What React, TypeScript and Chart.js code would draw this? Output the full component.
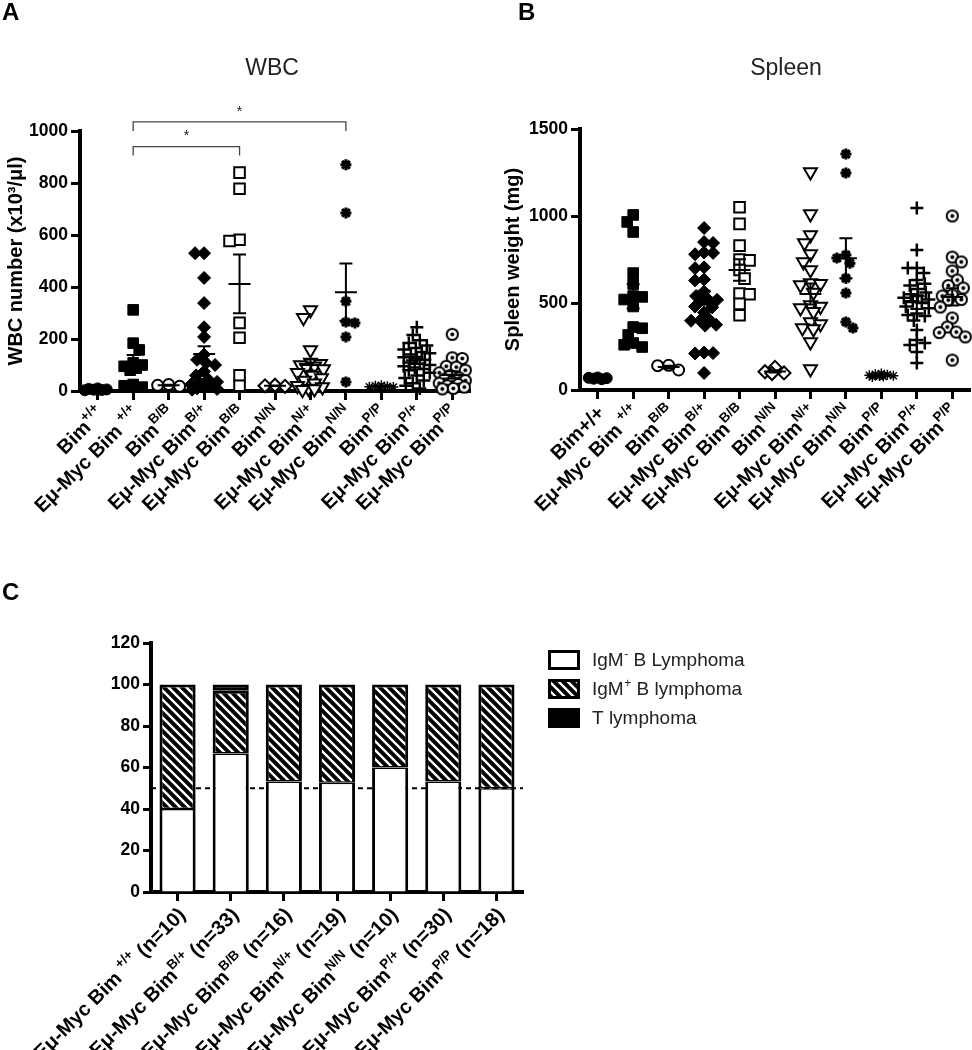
import React, { useEffect, useRef } from 'react';
import { Chart, registerables } from 'chart.js';

Chart.register(...registerables);

const FONT = '"Liberation Sans", Arial, Helvetica, sans-serif';
Chart.defaults.font.family = FONT;

// ---------- Panel A / B categories ----------
const dotBaseA = ['Bim', 'Eμ-Myc Bim ', 'Bim', 'Eμ-Myc Bim', 'Eμ-Myc Bim', 'Bim', 'Eμ-Myc Bim', 'Eμ-Myc Bim', 'Bim', 'Eμ-Myc Bim', 'Eμ-Myc Bim'];
const dotSupA = ['+/+', '+/+', 'B/B', 'B/+', 'B/B', 'N/N', 'N/+', 'N/N', 'P/P', 'P/+', 'P/P'];
const dotBaseB = ['Bim+/+', 'Eμ-Myc Bim ', 'Bim', 'Eμ-Myc Bim', 'Eμ-Myc Bim', 'Bim', 'Eμ-Myc Bim', 'Eμ-Myc Bim', 'Bim', 'Eμ-Myc Bim', 'Eμ-Myc Bim'];
const dotSupB = ['', '+/+', 'B/B', 'B/+', 'B/B', 'N/N', 'N/+', 'N/N', 'P/P', 'P/+', 'P/P'];

// ---------- Panel A: WBC (x10^3/µl) ----------
const wbcBimWT = [10, 8, 6, 5, 4, 3];
const wbcMycWT = [312, 184, 158, 108, 100, 95, 88, 80, 25, 20, 15];
const wbcBimBB = [25, 22, 18];
const wbcMycBplus = [530, 530, 435, 338, 245, 208, 140, 120, 108, 100, 75, 60, 45, 35, 30, 25, 20, 15, 10, 8, 5];
const wbcMycBB = [840, 778, 582, 577, 262, 205, 60, 20];
const wbcBimNN = [22, 20, 18];
const wbcMycNplus = [312, 282, 158, 110, 105, 100, 95, 90, 85, 70, 60, 50, 40, 30, 20, 15, 10, 8, 5];
const wbcMycNN = [870, 685, 345, 265, 262, 208, 35];
const wbcBimPP = [22, 20, 18, 16, 15, 12];
const wbcMycPplus = [245, 215, 195, 185, 175, 165, 160, 150, 145, 140, 130, 125, 120, 110, 105, 100, 95, 90, 85, 80, 70, 60, 50, 40, 30, 20, 10];
const wbcMycPP = [218, 128, 125, 95, 92, 80, 70, 60, 50, 45, 40, 35, 30, 25, 20, 15, 10, 8];
const wbcMean = [6, 110, 22, 142, 412, 20, 100, 380, 17, 118, 62];
const wbcSem = [1, 28, 2, 30, 113, 1, 22, 110, 1, 14, 14];
const wbcTicks = [0, 200, 400, 600, 800, 1000];
// significance brackets: [from group, to group, bracket level]
const wbcBrackets = [[1, 4, 940], [1, 7, 1035]];

// ---------- Panel B: Spleen weight (mg) ----------
const spBimWT = [72, 70, 68, 65, 62];
const spMycWT = [1006, 966, 908, 672, 609, 540, 535, 520, 480, 362, 355, 316, 270, 260, 247];
const spBimBB = [142, 140, 115];
const spMycBplus = [931, 850, 845, 790, 788, 780, 705, 700, 635, 630, 565, 540, 520, 518, 515, 480, 475, 445, 405, 400, 398, 375, 370, 215, 212, 210, 98];
const spMycBB = [1050, 955, 830, 750, 745, 690, 640, 555, 550, 495, 430];
const spBimNN = [130, 105, 98, 95];
const spMycNplus = [1253, 1011, 891, 845, 781, 736, 690, 615, 610, 603, 560, 489, 480, 471, 450, 391, 380, 356, 350, 276, 120];
const spMycNN = [1356, 1247, 776, 758, 729, 642, 557, 391, 356];
const spBimPP = [95, 90, 88, 85, 82, 80, 78, 75];
const spMycPplus = [1046, 805, 701, 701, 672, 632, 610, 600, 580, 560, 550, 540, 530, 520, 510, 500, 480, 470, 440, 431, 425, 400, 345, 287, 270, 259, 218, 155];
const spMycPP = [1000, 764, 736, 684, 632, 600, 586, 546, 540, 520, 517, 477, 414, 362, 333, 330, 305, 172];
const spleenMean = [66, 538, 132, 530, 690, 107, 552, 757, 84, 505, 535];
const spleenSem = [2, 70, 8, 40, 62, 7, 60, 115, 3, 40, 50];
const spleenTicks = [0, 500, 1000, 1500];

// ---------- Panel C: lymphoma type (%) ----------
const lymphBase = ['Eμ-Myc Bim ', 'Eμ-Myc Bim', 'Eμ-Myc Bim', 'Eμ-Myc Bim', 'Eμ-Myc Bim', 'Eμ-Myc Bim', 'Eμ-Myc Bim'];
const lymphSup = ['+/+', 'B/+', 'B/B', 'N/+', 'N/N', 'P/+', 'P/P'];
const lymphN = ['(n=10)', '(n=33)', '(n=16)', '(n=19)', '(n=10)', '(n=30)', '(n=18)'];
const igmNeg = [40, 66.7, 53.3, 52.6, 60, 53.3, 50];
const igmPos = [60, 30.3, 46.7, 47.4, 40, 46.7, 50];
const tLymph = [0, 3.0, 0, 0, 0, 0, 0];
const lymphTicks = [0, 20, 40, 60, 80, 100, 120];
const referenceLine = 50;
const legendBase = ['IgM', 'IgM', 'T lymphoma'];
const legendSup = ['-', '+', ''];
const legendRest = [' B Lymphoma', ' B lymphoma', ''];

// ---------- marker styles ----------
type Mk = { style: string; r: number; fill: string; bw: number; rot?: number; diam: number };
const markers: Mk[] = [
  { style: 'circle', r: 5.5, fill: '#000', bw: 1, diam: 9 },
  { style: 'rect', r: 7.5, fill: '#000', bw: 1, diam: 9 },
  { style: 'circle', r: 5.5, fill: '#fff', bw: 2, diam: 10.5 },
  { style: 'rectRot', r: 6.5, fill: '#000', bw: 1, diam: 8.5 },
  { style: 'rect', r: 7.5, fill: '#fff', bw: 2, diam: 10 },
  { style: 'rectRot', r: 6.5, fill: '#fff', bw: 2, diam: 10 },
  { style: 'triangle', r: 7.5, fill: '#fff', bw: 2, rot: 180, diam: 10 },
  { style: 'star', r: 5.5, fill: '#000', bw: 3, diam: 9 },
  { style: 'star', r: 5, fill: '#000', bw: 1.5, diam: 6 },
  { style: 'cross', r: 6.5, fill: '#000', bw: 2.5, diam: 8.5 },
  { style: 'circledDot', r: 7, fill: '#fff', bw: 2, diam: 10 },
];
const maxSpreadPx = 13;

function makeCircledDot(): HTMLCanvasElement {
  const c = document.createElement('canvas');
  c.width = 15; c.height = 15;
  const g = c.getContext('2d')!;
  g.fillStyle = '#fff';
  g.beginPath(); g.arc(7.5, 7.5, 5.6, 0, Math.PI * 2); g.fill();
  g.lineWidth = 2; g.strokeStyle = '#000'; g.stroke();
  g.fillStyle = '#000';
  g.beginPath(); g.arc(7.5, 7.5, 2, 0, Math.PI * 2); g.fill();
  return c;
}

function makeHatch(ctx: CanvasRenderingContext2D): CanvasPattern {
  const s = 9;
  const c = document.createElement('canvas');
  c.width = s; c.height = s;
  const g = c.getContext('2d')!;
  g.fillStyle = '#000'; g.fillRect(0, 0, s, s);
  g.strokeStyle = '#fff'; g.lineWidth = 2.4;
  g.beginPath();
  g.moveTo(-1, -1); g.lineTo(s + 1, s + 1);
  g.moveTo(-1, s - 1); g.lineTo(1, s + 1);
  g.moveTo(s - 1, -1); g.lineTo(s + 1, 1);
  g.stroke();
  return ctx.createPattern(c, 'repeat')!;
}

// beeswarm-like horizontal spreading, in pixels, converted to category units
function swarmOffsets(values: number[], pxPerY: number, diam: number, pxPerX: number): number[] {
  const placed: [number, number][] = [];
  const out: number[] = [];
  let sign = 1;
  values.forEach((v) => {
    const y = v * pxPerY;
    let chosen = 0;
    let best = -1;
    for (let k = 0; k <= maxSpreadPx * 2; k++) {
      const mag = Math.ceil(k / 2);
      const dx = k === 0 ? 0 : (k % 2 ? sign : -sign) * mag;
      let minD = Infinity;
      for (const [px, py] of placed) minD = Math.min(minD, Math.hypot(px - dx, py - y));
      if (minD >= diam) { chosen = dx; best = Infinity; break; }
      if (minD > best + 0.5) { best = minD; chosen = dx; }
    }
    placed.push([chosen, y]);
    out.push(chosen / pxPerX);
    sign = -sign;
  });
  return out;
}

function drawRotLabel(ctx: CanvasRenderingContext2D, x: number, y: number, base: string, sup: string, rest: string) {
  const big = `bold 20px ${FONT}`;
  const small = `bold 13.5px ${FONT}`;
  ctx.font = big;
  const wb = ctx.measureText(base).width;
  const wr = rest ? ctx.measureText(rest).width : 0;
  ctx.font = small;
  const ws = sup ? ctx.measureText(sup).width : 0;
  const W = wb + ws + wr;
  ctx.save();
  ctx.translate(x, y);
  ctx.rotate(-Math.PI / 4);
  ctx.textBaseline = 'middle';
  ctx.textAlign = 'left';
  ctx.fillStyle = '#000';
  ctx.font = big;
  ctx.fillText(base, -W, 0);
  if (sup) { ctx.font = small; ctx.fillText(sup, -W + wb, -7.5); }
  if (rest) { ctx.font = big; ctx.fillText(rest, -W + wb + ws, 0); }
  ctx.restore();
}

type DotCfg = {
  groups: number[][];
  base: string[];
  sup: string[];
  means: number[];
  sems: number[];
  ticks: number[];
  title: string;
  titleX: number;
  yTitle: string;
  padLeft: number;
  areaLeft: number;
  areaRight: number;
  areaTop: number;
  areaBottom: number;
  width: number;
  height: number;
  brackets?: number[][];
};

function buildDot(canvas: HTMLCanvasElement, cfg: DotCfg): Chart {
  const dotImg = makeCircledDot();
  const yMax = cfg.ticks[cfg.ticks.length - 1];
  const n = cfg.groups.length;
  const pxPerY = (cfg.areaBottom - cfg.areaTop) / yMax;
  const pxPerX = (cfg.areaRight - cfg.areaLeft) / n;
  const datasets = cfg.groups.map((vals, i) => {
    const mk = markers[i];
    const offs = swarmOffsets(vals, pxPerY, mk.diam, pxPerX);
    return {
      label: cfg.base[i] + cfg.sup[i],
      data: vals.map((v, j) => ({ x: i + offs[j], y: v })),
      pointStyle: mk.style === 'circledDot' ? dotImg : mk.style,
      pointRadius: mk.r,
      pointBackgroundColor: mk.fill,
      pointBorderColor: '#000',
      pointBorderWidth: mk.bw,
      pointRotation: mk.rot || 0,
      showLine: false,
      clip: false,
    };
  });

  const decor = {
    id: 'dotDecor',
    afterDatasetsDraw(chart: any) {
      const { ctx } = chart;
      const xs = chart.scales.x;
      const ys = chart.scales.y;
      ctx.save();
      ctx.strokeStyle = '#000';
      ctx.lineWidth = 2;
      cfg.means.forEach((m, i) => {
        const x = xs.getPixelForValue(i);
        const yM = ys.getPixelForValue(m);
        const yT = ys.getPixelForValue(m + cfg.sems[i]);
        const yB = ys.getPixelForValue(Math.max(0, m - cfg.sems[i]));
        ctx.beginPath();
        ctx.moveTo(x - 11, yM); ctx.lineTo(x + 11, yM);
        ctx.moveTo(x, yT); ctx.lineTo(x, yB);
        ctx.moveTo(x - 6.5, yT); ctx.lineTo(x + 6.5, yT);
        ctx.moveTo(x - 6.5, yB); ctx.lineTo(x + 6.5, yB);
        ctx.stroke();
      });
      ctx.restore();
    },
    afterDraw(chart: any) {
      const { ctx, chartArea } = chart;
      const xs = chart.scales.x;
      const ys = chart.scales.y;
      ctx.save();
      ctx.fillStyle = '#222';
      ctx.font = `23px ${FONT}`;
      ctx.textAlign = 'center';
      ctx.textBaseline = 'middle';
      ctx.fillText(cfg.title, cfg.titleX, 69);
      for (let i = 0; i < n; i++) {
        drawRotLabel(ctx, xs.getPixelForValue(i) + 4, chartArea.bottom + 20, cfg.base[i], cfg.sup[i], '');
      }
      if (cfg.brackets) {
        ctx.strokeStyle = '#444';
        ctx.lineWidth = 1.3;
        ctx.fillStyle = '#222';
        ctx.font = `14px ${FONT}`;
        cfg.brackets.forEach(([a, b, lvl]) => {
          const x1 = xs.getPixelForValue(a);
          const x2 = xs.getPixelForValue(b);
          const y = ys.getPixelForValue(lvl);
          ctx.beginPath();
          ctx.moveTo(x1, y + 9); ctx.lineTo(x1, y); ctx.lineTo(x2, y); ctx.lineTo(x2, y + 9);
          ctx.stroke();
          ctx.fillText('*', (x1 + x2) / 2, y - 10);
        });
      }
      ctx.restore();
    },
  };

  return new Chart(canvas, {
    type: 'scatter',
    data: { datasets } as any,
    options: {
      animation: false,
      responsive: false,
      maintainAspectRatio: false,
      events: [],
      layout: {
        autoPadding: false,
        padding: { left: cfg.padLeft, top: cfg.areaTop, right: cfg.width - cfg.areaRight, bottom: 0 },
      } as any,
      plugins: { legend: { display: false }, tooltip: { enabled: false }, title: { display: false } },
      scales: {
        x: {
          type: 'linear',
          min: -0.5,
          max: n - 0.5,
          afterBuildTicks: (s: any) => { s.ticks = cfg.base.map((_, i) => ({ value: i })); },
          afterFit: (s: any) => { s.height = cfg.height - cfg.areaBottom; },
          ticks: { display: false },
          grid: { drawOnChartArea: false, drawTicks: true, tickLength: 9, tickWidth: 3, tickColor: '#000', color: '#000' },
          border: { display: true, color: '#000', width: 4 },
        },
        y: {
          type: 'linear',
          min: 0,
          max: yMax,
          afterBuildTicks: (s: any) => { s.ticks = cfg.ticks.map((v) => ({ value: v })); },
          afterFit: (s: any) => { s.width = cfg.areaLeft - cfg.padLeft; },
          ticks: { color: '#000', font: { size: 17.5, weight: 'bold' }, padding: 3, callback: (v: any) => String(v) },
          grid: { drawOnChartArea: false, drawTicks: true, tickLength: 9, tickWidth: 3, tickColor: '#000', color: '#000' },
          border: { display: true, color: '#000', width: 4 },
          title: { display: true, text: cfg.yTitle, color: '#000', font: { size: 20, weight: 'bold' } },
        },
      },
    } as any,
    plugins: [decor],
  });
}

function buildBars(canvas: HTMLCanvasElement): Chart {
  const ctx0 = canvas.getContext('2d')!;
  const hatch = makeHatch(ctx0);
  const H = 450;
  const area = { left: 151, right: 523, top: 43, bottom: 292 };
  const labels = lymphBase.map((b, i) => `${b}${lymphSup[i]} ${lymphN[i]}`);
  const fills = ['#fff', hatch, '#000'];
  const decor = {
    id: 'barDecor',
    beforeDatasetsDraw(chart: any) {
      const { ctx, chartArea } = chart;
      const y = chart.scales.y.getPixelForValue(referenceLine);
      ctx.save();
      ctx.strokeStyle = '#000';
      ctx.lineWidth = 2;
      ctx.setLineDash([5, 4]);
      ctx.beginPath();
      ctx.moveTo(chartArea.left, y); ctx.lineTo(chartArea.right, y);
      ctx.stroke();
      ctx.restore();
    },
    afterDraw(chart: any) {
      const { ctx, chartArea } = chart;
      const xs = chart.scales.x;
      ctx.save();
      for (let i = 0; i < labels.length; i++) {
        drawRotLabel(ctx, xs.getPixelForValue(i) + 5, chartArea.bottom + 20, lymphBase[i], lymphSup[i], ' ' + lymphN[i]);
      }
      // legend
      chart.data.datasets.forEach((ds: any, i: number) => {
        const bx = 548;
        const by = 50 + i * 29;
        ctx.fillStyle = ds.backgroundColor;
        ctx.fillRect(bx, by, 32, 20);
        ctx.strokeStyle = '#000';
        ctx.lineWidth = 3;
        ctx.strokeRect(bx + 1.5, by + 1.5, 29, 17);
        ctx.fillStyle = '#222';
        ctx.textBaseline = 'middle';
        ctx.textAlign = 'left';
        const big = `19px ${FONT}`;
        const small = `12px ${FONT}`;
        let x = 592;
        const cy = by + 10.5;
        ctx.font = big;
        ctx.fillText(legendBase[i], x, cy);
        x += ctx.measureText(legendBase[i]).width;
        if (legendSup[i]) {
          ctx.font = small;
          ctx.fillText(legendSup[i], x + 0.5, cy - 6);
          x += ctx.measureText(legendSup[i]).width + 0.5;
        }
        if (legendRest[i]) {
          ctx.font = big;
          ctx.fillText(legendRest[i], x, cy);
        }
      });
      ctx.restore();
    },
  };

  const common = { borderColor: '#000', borderSkipped: false, barPercentage: 0.68, categoryPercentage: 1 };
  return new Chart(canvas, {
    type: 'bar',
    data: {
      labels,
      datasets: [
        { label: 'IgM- B Lymphoma', data: igmNeg, backgroundColor: fills[0], borderWidth: { top: 1.5, left: 3, right: 3, bottom: 0 }, ...common },
        { label: 'IgM+ B lymphoma', data: igmPos, backgroundColor: fills[1], borderWidth: { top: 3, left: 3, right: 3, bottom: 1.5 }, ...common },
        { label: 'T lymphoma', data: tLymph, backgroundColor: fills[2], borderWidth: 3, ...common },
      ],
    } as any,
    options: {
      animation: false,
      responsive: false,
      maintainAspectRatio: false,
      events: [],
      layout: { autoPadding: false, padding: { left: 0, top: area.top, right: 972 - area.right, bottom: 0 } } as any,
      plugins: { legend: { display: false }, tooltip: { enabled: false }, title: { display: false } },
      scales: {
        x: {
          stacked: true,
          z: 1,
          afterFit: (s: any) => { s.height = H - area.bottom; },
          ticks: { display: false },
          grid: { offset: false, drawOnChartArea: false, drawTicks: true, tickLength: 9, tickWidth: 3, tickColor: '#000', color: '#000' },
          border: { display: true, color: '#000', width: 4 },
        },
        y: {
          stacked: true,
          z: 1,
          min: 0,
          max: 120,
          afterBuildTicks: (s: any) => { s.ticks = lymphTicks.map((v) => ({ value: v })); },
          afterFit: (s: any) => { s.width = area.left; },
          ticks: { color: '#000', font: { size: 17.5, weight: 'bold' }, padding: 3, callback: (v: any) => String(v) },
          grid: { drawOnChartArea: false, drawTicks: true, tickLength: 8, tickWidth: 3, tickColor: '#000', color: '#000' },
          border: { display: true, color: '#000', width: 4 },
        },
      },
    } as any,
    plugins: [decor],
  });
}

const letterStyle = (left: number, top: number): React.CSSProperties => ({
  position: 'absolute', left, top, margin: 0, font: `bold 24px ${FONT}`, lineHeight: '24px', color: '#000',
});

export default function App() {
  const aRef = useRef<HTMLCanvasElement>(null);
  const bRef = useRef<HTMLCanvasElement>(null);
  const cRef = useRef<HTMLCanvasElement>(null);

  useEffect(() => {
    const charts: Chart[] = [];
    charts.push(buildDot(aRef.current!, {
      groups: [wbcBimWT, wbcMycWT, wbcBimBB, wbcMycBplus, wbcMycBB, wbcBimNN, wbcMycNplus, wbcMycNN, wbcBimPP, wbcMycPplus, wbcMycPP],
      base: dotBaseA, sup: dotSupA, means: wbcMean, sems: wbcSem, ticks: wbcTicks,
      title: 'WBC', titleX: 272, yTitle: 'WBC number (x10³/μl)',
      padLeft: 0, areaLeft: 80, areaRight: 470, areaTop: 131, areaBottom: 391, width: 480, height: 600,
      brackets: wbcBrackets,
    }));
    charts.push(buildDot(bRef.current!, {
      groups: [spBimWT, spMycWT, spBimBB, spMycBplus, spMycBB, spBimNN, spMycNplus, spMycNN, spBimPP, spMycPplus, spMycPP],
      base: dotBaseB, sup: dotSupB, means: spleenMean, sems: spleenSem, ticks: spleenTicks,
      title: 'Spleen', titleX: 306, yTitle: 'Spleen weight (mg)',
      padLeft: 17, areaLeft: 100, areaRight: 490, areaTop: 129, areaBottom: 390, width: 492, height: 600,
    }));
    charts.push(buildBars(cRef.current!));
    return () => charts.forEach((c) => c.destroy());
  }, []);

  return (
    <div style={{ position: 'absolute', left: 0, top: 0, width: 972, height: 1050, background: '#fff', overflow: 'hidden' }}>
      <canvas ref={aRef} width={480} height={600} style={{ position: 'absolute', left: 0, top: 0 }} />
      <canvas ref={bRef} width={492} height={600} style={{ position: 'absolute', left: 480, top: 0 }} />
      <canvas ref={cRef} width={972} height={450} style={{ position: 'absolute', left: 0, top: 600 }} />
      <div style={letterStyle(2, 0)}>A</div>
      <div style={letterStyle(518, 0)}>B</div>
      <div style={letterStyle(2, 580)}>C</div>
    </div>
  );
}
